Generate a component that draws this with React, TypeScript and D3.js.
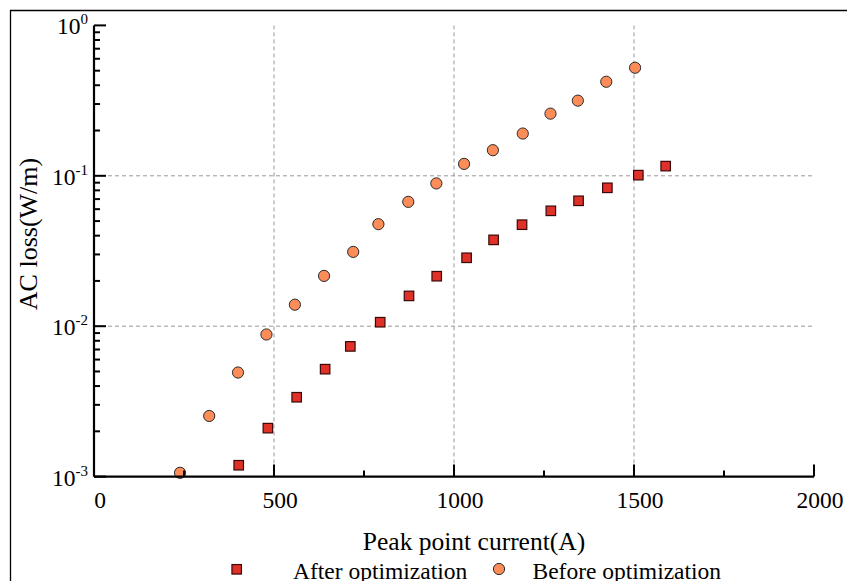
import React from "react";
import * as d3 from "d3";

const beforeX = [239, 320, 400, 479, 558, 639, 720, 790, 873, 951, 1028, 1108, 1191, 1268, 1344, 1423, 1503];
const beforeY = [0.00106, 0.00253, 0.00492, 0.00881, 0.0139, 0.0216, 0.0312, 0.0477, 0.0671, 0.089, 0.12, 0.148, 0.191, 0.259, 0.316, 0.422, 0.523];
const afterX = [402, 483, 563, 642, 712, 795, 875, 952, 1035, 1110, 1189, 1269, 1346, 1426, 1512, 1588];
const afterY = [0.00119, 0.0021, 0.00337, 0.00518, 0.00734, 0.01063, 0.0159, 0.0215, 0.0285, 0.0375, 0.0473, 0.0585, 0.0682, 0.0832, 0.101, 0.116];

const xTicks = [0, 500, 1000, 1500, 2000];
const xMinorTicks = [250, 750, 1250, 1750];
const xGrid = [500, 1000, 1500];
const yTicks = [1e-3, 1e-2, 1e-1, 1];
const yTickExps = ["-3", "-2", "-1", "0"];
const yGrid = [1e-2, 1e-1];

const seriesNames = ["After optimization", "Before optimization"];
const xTitle = "Peak point current(A)";
const yTitle = "AC loss(W/m)";

const W = 847;
const H = 581;
const FONT = "'Liberation Serif', 'Times New Roman', serif";

export default function App() {
  const x = d3.scaleLinear().domain([0, 2000]).range([94, 814]);
  const y = d3.scaleLog().domain([1e-3, 1]).range([476.6, 25.4]);

  const yMinor: number[] = [];
  for (let d = -3; d < 0; d++) {
    for (let k = 2; k <= 9; k++) yMinor.push(k * Math.pow(10, d));
  }

  const sq = 9.5;
  const r = 5.6;
  const sqFill = "#df3128";
  const sqStroke = "#3a0808";
  const cFill = "#fc8d59";
  const cStroke = "#2a2a2a";

  const x0 = x(0);
  const y0 = y(1e-3);

  return (
    <svg
      width={W}
      height={H}
      style={{ position: "absolute", left: 0, top: 0, background: "#fff" }}
      fontFamily={FONT}
    >
      <rect x={0} y={0} width={W} height={H} fill="#fff" />
      <path d={`M10.5,${H} V10.5 H${W}`} fill="none" stroke="#000" strokeWidth={1.3} />

      {/* grid */}
      {xGrid.map((v) => (
        <line key={"gx" + v} x1={x(v)} x2={x(v)} y1={y(1)} y2={y0} stroke="#999" strokeWidth={1} strokeDasharray="4,3" />
      ))}
      {yGrid.map((v) => (
        <line key={"gy" + v} x1={x0} x2={x(2000)} y1={y(v)} y2={y(v)} stroke="#999" strokeWidth={1} strokeDasharray="4,3" />
      ))}

      {/* markers */}
      {afterX.map((v, i) => (
        <rect
          key={"a" + i}
          x={x(v) - sq / 2}
          y={y(afterY[i]) - sq / 2}
          width={sq}
          height={sq}
          fill={sqFill}
          stroke={sqStroke}
          strokeWidth={1.2}
        />
      ))}
      {beforeX.map((v, i) => (
        <circle key={"b" + i} cx={x(v)} cy={y(beforeY[i])} r={r} fill={cFill} stroke={cStroke} strokeWidth={1} />
      ))}

      {/* axes */}
      <line x1={x0} x2={x(2000)} y1={y0} y2={y0} stroke="#000" strokeWidth={2.2} />
      <line x1={x0} x2={x0} y1={y(1)} y2={y0} stroke="#000" strokeWidth={2.2} />
      {xTicks.map((v) => (
        <g key={"xt" + v}>
          <line x1={x(v)} x2={x(v)} y1={y0} y2={y0 - 12} stroke="#000" strokeWidth={2} />
          <text x={x(v) + 6} y={508} textAnchor="middle" fontSize={23.5} fill="#000">
            {v}
          </text>
        </g>
      ))}
      {xMinorTicks.map((v) => (
        <line key={"xm" + v} x1={x(v)} x2={x(v)} y1={y0} y2={y0 - 6} stroke="#000" strokeWidth={2} />
      ))}
      {yTicks.map((v, i) => (
        <g key={"yt" + v}>
          <line x1={x0} x2={x0 + 12} y1={y(v)} y2={y(v)} stroke="#000" strokeWidth={2} />
          <text x={88} y={y(v) + 9} textAnchor="end" fontSize={23.5} fill="#000">
            <tspan>10</tspan>
            <tspan dy={-10} fontSize={15}>
              {yTickExps[i]}
            </tspan>
          </text>
        </g>
      ))}
      {yMinor.map((v) => (
        <line key={"ym" + v} x1={x0} x2={x0 + 6} y1={y(v)} y2={y(v)} stroke="#000" strokeWidth={2} />
      ))}

      {/* titles */}
      <text x={474} y={550} textAnchor="middle" fontSize={25.5} fill="#000">
        {xTitle}
      </text>
      <text transform={`translate(37,234) rotate(-90)`} textAnchor="middle" fontSize={26} fill="#000">
        {yTitle}
      </text>

      {/* legend */}
      <rect x={236.7 - sq / 2} y={569.3 - sq / 2} width={sq} height={sq} fill={sqFill} stroke={sqStroke} strokeWidth={1.2} />
      <text x={293} y={578.5} fontSize={23.5} fill="#000">
        {seriesNames[0]}
      </text>
      <circle cx={499} cy={569} r={r} fill={cFill} stroke={cStroke} strokeWidth={1} />
      <text x={532.5} y={578.5} fontSize={23.5} fill="#000">
        {seriesNames[1]}
      </text>
    </svg>
  );
}
